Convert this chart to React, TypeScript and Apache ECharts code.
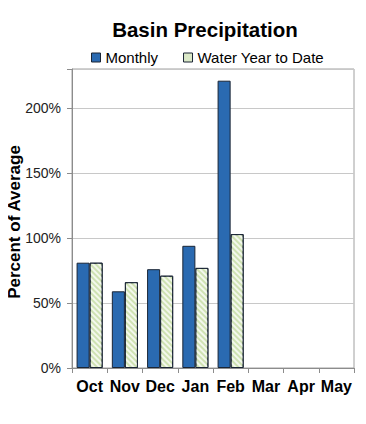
import React, { useEffect, useRef } from "react";
import * as echarts from "echarts";

const months = ["Oct", "Nov", "Dec", "Jan", "Feb", "Mar", "Apr", "May"];
const monthly = [81, 59, 76, 94, 221, null, null, null];
const waterYearToDate = [81, 66, 71, 77, 103, null, null, null];
const yTicks = [0, 50, 100, 150, 200];

export default function App() {
  const ref = useRef<HTMLDivElement>(null);
  useEffect(() => {
    if (!ref.current) return;
    const chart = echarts.init(ref.current, null, { renderer: "svg" });
    const font = "'Liberation Sans', Arial, sans-serif";
    chart.setOption({
      animation: false,
      backgroundColor: "#ffffff",
      title: {
        text: "Basin Precipitation",
        left: 200,
        textAlign: "center",
        top: 14,
        textStyle: { fontFamily: font, fontSize: 20.5, fontWeight: "bold", color: "#000" },
      },
      legend: {
        left: 86,
        top: 45,
        itemWidth: 9,
        itemHeight: 9,
        itemGap: 25,
        textStyle: { fontFamily: font, fontSize: 15, color: "#000" },
        data: [
          { name: "Monthly", icon: "rect", itemStyle: { color: "#2a6ab1", borderColor: "#1a2535", borderWidth: 1 } },
          { name: "Water Year to Date", icon: "rect", itemStyle: { color: "#dbe9c8", borderColor: "#1a2535", borderWidth: 1, decal: "none" } },
        ],
      },
      graphic: [
        {
          type: "text",
          x: 14,
          y: 222,
          rotation: Math.PI / 2,
          style: {
            text: "Percent of Average",
            fontFamily: font,
            fontSize: 17,
            fontWeight: "bold",
            fill: "#000",
            align: "center",
            verticalAlign: "middle",
          },
        },
      ],
      grid: {
        left: 72,
        right: 12,
        top: 69,
        bottom: 56,
        show: true,
        borderColor: "#a0a0a0",
        borderWidth: 1,
        containLabel: false,
        outerBoundsMode: "none",
      },
      xAxis: {
        type: "category",
        data: months,
        axisLine: { lineStyle: { color: "#8c8c8c" } },
        axisTick: { show: true, alignWithLabel: false, length: 5, lineStyle: { color: "#8c8c8c" } },
        axisLabel: { fontFamily: font, fontSize: 16, fontWeight: "bold", color: "#000", margin: 10, interval: 0 },
      },
      yAxis: {
        type: "value",
        min: 0,
        max: 230,
        interval: 50,
        axisLine: { show: true, lineStyle: { color: "#8c8c8c" } },
        axisTick: { show: true, length: 5, lineStyle: { color: "#8c8c8c" } },
        splitLine: { lineStyle: { color: "#c8c8c8" } },
        axisLabel: {
          fontFamily: font,
          fontSize: 14,
          color: "#222",
          margin: 11,
          formatter: (v: number) => (yTicks.includes(v) ? v + "%" : ""),
        },
      },
      series: [
        {
          name: "Monthly",
          type: "bar",
          data: monthly,
          barGap: "0%",
          barCategoryGap: "26%",
          itemStyle: { color: "#2a6ab1", borderColor: "#1a2535", borderWidth: 1 },
        },
        {
          name: "Water Year to Date",
          type: "bar",
          data: waterYearToDate,
          itemStyle: {
            color: "#cfe2b3",
            borderColor: "#1a2535",
            borderWidth: 1,
            decal: {
              symbol: "rect",
              symbolSize: 1,
              color: "rgba(255,255,255,0.75)",
              dashArrayX: [1, 0],
              dashArrayY: [2, 2],
              rotation: Math.PI / 4,
            },
          },
        },
      ],
    });
    return () => chart.dispose();
  }, []);
  return <div ref={ref} style={{ width: 366, height: 424, margin: -8 }} />;
}
